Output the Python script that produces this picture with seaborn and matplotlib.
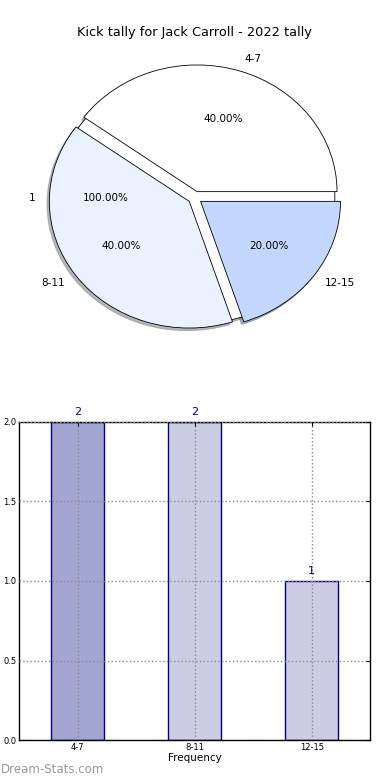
import matplotlib
matplotlib.use("Agg")
import matplotlib.pyplot as plt
import seaborn as sns
import pandas as pd

# ------------------------------------------------------------------
# DATOS
# ------------------------------------------------------------------
title = "Kick tally for Jack Carroll - 2022 tally"
categories = ["4-7", "8-11", "12-15"]
counts = [2, 2, 1]
base_labels = ["1"]
base_values = [1]

pie_colors = ["#ffffff", "#ebf1ff", "#c4d8ff"]
bar_colors = ["#a3a5d1", "#cccde5", "#cccde5"]
y_ticks = [0.0, 0.5, 1.0, 1.5, 2.0]

sns.set_style("white")
plt.rcParams['font.family'] = ['DejaVu Sans']
plt.rcParams['text.color'] = 'black'
plt.rcParams['axes.labelcolor'] = 'black'
plt.rcParams['xtick.color'] = 'black'
plt.rcParams['ytick.color'] = 'black'

fig = plt.figure(figsize=(3.9, 7.8), dpi=100)

shadow_kw = dict(ox=-0.012, oy=-0.015, shade=0.45, alpha=0.6)

# ------------------------------------------------------------------
# PIE (fondo de una sola porción + porciones separadas encima)
# ------------------------------------------------------------------
ax_pie = fig.add_axes([0.0513, 0.5436, 0.897, 0.406])
ax_pie.pie(base_values, labels=base_labels, colors=["white"],
           autopct='%1.2f%%', shadow=shadow_kw, startangle=0,
           labeldistance=1.14, pctdistance=0.64,
           wedgeprops=dict(edgecolor='black', linewidth=0.6),
           textprops=dict(fontsize=7.5))
ax_pie.pie(counts, labels=categories, colors=pie_colors,
           autopct='%1.2f%%', shadow=shadow_kw, startangle=0,
           explode=[0.05] * len(counts),
           wedgeprops=dict(edgecolor='black', linewidth=0.6),
           textprops=dict(fontsize=7.5))
ax_pie.set_aspect('auto')
ax_pie.set_xlim(-1.25, 1.25)
ax_pie.set_ylim(-1.25, 1.25)
ax_pie.set_title(title, fontsize=9.3, pad=2)

# ------------------------------------------------------------------
# BARRAS
# ------------------------------------------------------------------
df = pd.DataFrame({'cat': categories, 'count': counts})
ax_bar = fig.add_axes([0.0495, 0.0509, 0.9, 0.4085])
sns.barplot(data=df, x='cat', y='count', hue='cat', palette=bar_colors,
            legend=False, width=0.45, edgecolor='navy', linewidth=1,
            saturation=1, ax=ax_bar, zorder=2)
ax_bar.set_xlim(-0.5, len(categories) - 0.5)
ax_bar.set_ylim(0, max(counts))
ax_bar.set_yticks(y_ticks)
ax_bar.set_yticklabels([f"{t:.1f}" for t in y_ticks])
ax_bar.set_xlabel('Frequency', fontsize=7.5, labelpad=1)
ax_bar.set_ylabel('')
ax_bar.tick_params(axis='both', labelsize=6, direction='in', length=3,
                   top=True, right=True, pad=2)
ax_bar.grid(True, linestyle=':', color='#888888', linewidth=1.0, zorder=3)
ax_bar.set_axisbelow(False)
for s in ax_bar.spines.values():
    s.set_color('black')
    s.set_linewidth(1)

# Valores encima de cada barra
for i, v in enumerate(counts):
    ax_bar.text(i, v + 0.03, str(v), ha='center', va='bottom',
                fontsize=8, color='navy', clip_on=False)

fig.text(0.002, 0.013, 'Dream-Stats.com', fontsize=8.5, color='#999999',
         ha='left', va='center')

fig.savefig('out.png', dpi=100)
